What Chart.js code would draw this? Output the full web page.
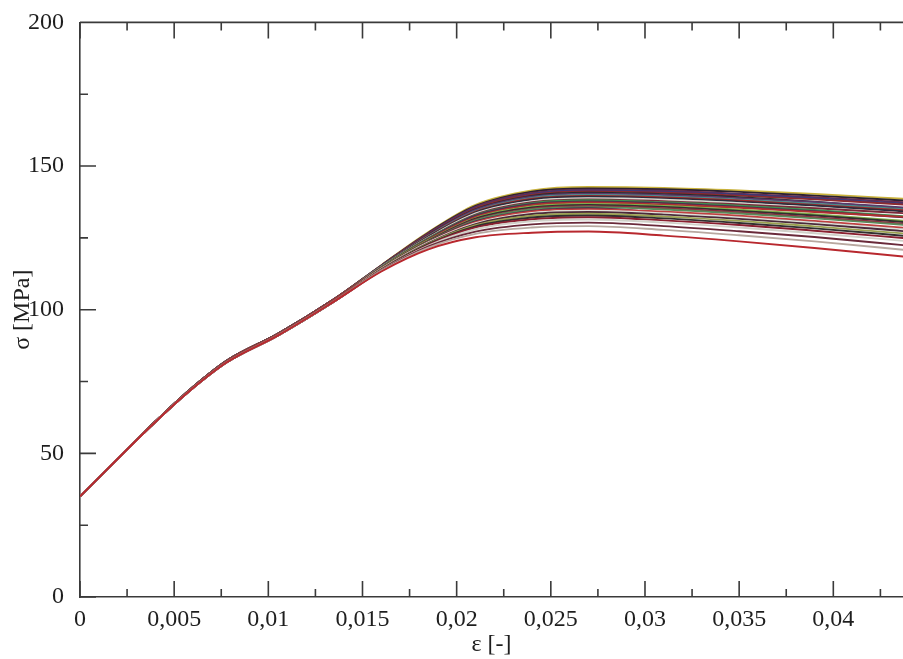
<!DOCTYPE html>
<html>
<head>
<meta charset="utf-8">
<script src="https://cdn.jsdelivr.net/npm/chart.js@4"></script>
<style>
  html, body { margin: 0; padding: 0; background: #ffffff; }
  #wrap { width: 903px; height: 659px; }
</style>
</head>
<body>
<div id="wrap"><canvas id="chart"></canvas></div>
<script>
// strain points shared by all curves
const strain = [0, 0.004, 0.0058, 0.0078, 0.0105, 0.0135, 0.016, 0.0185, 0.021, 0.024, 0.027, 0.031, 0.035, 0.039, 0.044];

// stress [MPa] of every simulated specimen
const stressCurves = [
    [35, 61.1, 72.0, 82.3, 91.6, 103.7, 115.5, 127.0, 136.5, 141.5, 142.7, 142.4, 141.5, 140.3, 138.5],
    [35, 61.1, 72.0, 82.3, 91.6, 103.7, 115.4, 126.8, 136.1, 141.1, 142.2, 141.9, 141.0, 139.7, 137.9],
    [35, 61.1, 72.0, 82.3, 91.6, 103.7, 115.4, 126.6, 135.8, 140.6, 141.8, 141.4, 140.4, 139.2, 137.3],
    [35, 61.1, 72.0, 82.3, 91.6, 103.7, 115.3, 126.4, 135.5, 140.3, 141.5, 141.1, 140.1, 138.8, 136.9],
    [35, 61.1, 72.0, 82.3, 91.6, 103.7, 115.3, 126.3, 135.3, 140.0, 141.2, 140.7, 139.7, 138.4, 136.5],
    [35, 61.1, 72.0, 82.3, 91.6, 103.7, 115.2, 126.0, 134.9, 139.6, 140.7, 140.2, 139.2, 137.6, 135.0],
    [35, 61.1, 72.0, 82.3, 91.6, 103.7, 115.1, 125.9, 134.7, 139.3, 140.4, 139.9, 138.8, 137.5, 135.5],
    [35, 61.1, 72.0, 82.3, 91.6, 103.7, 115.1, 125.7, 134.3, 138.9, 139.9, 139.4, 138.3, 136.9, 134.9],
    [35, 61.1, 72.0, 82.3, 91.6, 103.7, 115.0, 125.5, 134.1, 138.6, 139.6, 139.1, 138.0, 136.5, 134.5],
    [35, 61.0, 71.8, 82.0, 91.3, 103.3, 115.0, 125.4, 133.9, 138.3, 139.3, 138.7, 137.6, 136.2, 134.1],
    [35, 61.0, 71.8, 82.0, 91.3, 103.3, 114.9, 125.1, 133.5, 137.8, 138.8, 138.3, 137.1, 135.6, 133.5],
    [35, 61.0, 71.8, 82.0, 91.3, 103.3, 114.8, 124.9, 133.1, 137.4, 138.4, 137.8, 136.6, 135.3, 133.5],
    [35, 61.0, 71.8, 82.0, 91.3, 103.3, 114.8, 124.8, 132.9, 137.1, 138.1, 137.4, 136.2, 134.7, 132.4],
    [35, 61.0, 71.8, 82.0, 91.3, 103.3, 114.7, 124.6, 132.7, 136.8, 137.7, 137.1, 135.8, 134.3, 132.0],
    [35, 61.0, 71.8, 82.0, 91.3, 103.3, 114.6, 124.4, 132.3, 136.4, 137.3, 136.6, 135.5, 134.0, 132.2],
    [35, 61.0, 71.8, 82.0, 91.3, 103.3, 114.6, 124.2, 131.9, 135.9, 136.8, 136.1, 134.8, 133.2, 130.8],
    [35, 61.0, 71.8, 82.0, 91.3, 103.3, 114.5, 124.0, 131.7, 135.6, 136.5, 135.8, 134.4, 132.8, 130.4],
    [35, 61.0, 71.8, 82.0, 91.3, 103.3, 114.4, 123.8, 131.3, 135.2, 136.0, 135.3, 133.9, 132.2, 129.8],
    [35, 61.0, 71.8, 82.0, 91.3, 103.3, 114.4, 123.7, 131.1, 134.9, 135.7, 134.9, 133.5, 131.8, 129.4],
    [35, 61.0, 71.8, 82.0, 91.3, 103.3, 114.3, 123.6, 130.7, 134.4, 135.3, 133.8, 132.3, 130.4, 127.8],
    [35, 61.0, 71.8, 82.0, 91.3, 103.3, 114.3, 123.5, 130.5, 134.2, 135.0, 134.1, 132.7, 130.9, 128.4],
    [35, 60.9, 71.6, 81.7, 91.0, 102.9, 114.2, 123.4, 130.1, 133.7, 134.5, 133.6, 132.1, 130.3, 127.8],
    [35, 60.9, 71.6, 81.7, 91.0, 102.9, 114.1, 123.2, 129.8, 133.3, 134.0, 133.1, 131.6, 129.8, 127.2],
    [35, 60.9, 71.6, 81.7, 91.0, 102.9, 114.0, 123.0, 129.4, 132.7, 133.4, 132.4, 130.9, 129.0, 126.4],
    [35, 60.9, 71.6, 81.7, 91.0, 102.9, 113.9, 122.8, 129.0, 132.1, 132.8, 131.8, 130.2, 128.3, 125.6],
    [35, 60.9, 71.6, 81.7, 91.0, 102.9, 113.8, 122.6, 128.6, 131.5, 132.2, 131.1, 129.5, 127.5, 124.8],
    [35, 60.9, 71.6, 81.7, 91.0, 102.9, 113.7, 122.3, 128.0, 130.8, 131.4, 130.3, 128.6, 126.6, 123.8],
    [35, 60.9, 71.6, 81.7, 91.0, 102.9, 113.6, 122.0, 127.2, 129.7, 130.3, 129.1, 127.3, 125.3, 122.3],
    [35, 60.9, 71.6, 81.7, 91.0, 102.9, 113.5, 121.6, 126.4, 128.6, 129.1, 127.8, 125.9, 123.8, 120.7],
    [35, 60.9, 71.6, 81.7, 91.0, 102.9, 113.3, 121.0, 125.2, 126.8, 127.2, 125.8, 123.8, 121.5, 118.3]
];

const curveColors = [
    '#c9b23c', '#2b2230', '#6b2a4a', '#3a3a7a', '#8a2a30', '#2a2a2a',
    '#5a3a6a', '#4a8a8a', '#a02a2a', '#2c2c3c', '#d8d8d0', '#7a2a3a',
    '#3f8f4f', '#4a3050', '#b03030', '#7fae4a', '#2f2f2f', '#8a3040',
    '#5a8a5a', '#3a2a4a', '#c04040', '#e0e0d8', '#4a2a3a', '#9aa050',
    '#303030', '#8a2030', '#d0d0c8', '#6a2a3a', '#b8a8a0', '#b8282e'
];

const xTicks = [0, 0.005, 0.01, 0.015, 0.02, 0.025, 0.03, 0.035, 0.04];
const xMinorTicks = [0.0025, 0.0075, 0.0125, 0.0175, 0.0225, 0.0275, 0.0325, 0.0375, 0.0425];
const yTicks = [0, 50, 100, 150, 200];
const yMinorTicks = [25, 75, 125, 175];

const axisColor = '#3a3a3a';
const textColor = '#1e1e1e';
const serif = "'Liberation Serif', 'DejaVu Serif', serif";

// ticks point into the plot (xmgrace style), top frame line mirrored
const innerTicks = {
    id: 'innerTicks',
    afterDatasetsDraw(chart) {
        const {ctx, chartArea: a, scales: {x, y}} = chart;
        ctx.save();
        ctx.strokeStyle = axisColor;
        ctx.lineWidth = 1.6;
        ctx.beginPath();
        ctx.moveTo(a.left, a.top);
        ctx.lineTo(a.right, a.top);
        const xt = (list, len) => list.forEach(v => {
            const px = x.getPixelForValue(v);
            ctx.moveTo(px, a.bottom); ctx.lineTo(px, a.bottom - len);
            ctx.moveTo(px, a.top); ctx.lineTo(px, a.top + len);
        });
        const yt = (list, len) => list.forEach(v => {
            const py = y.getPixelForValue(v);
            ctx.moveTo(a.left, py); ctx.lineTo(a.left + len, py);
        });
        xt(xTicks, 16); xt(xMinorTicks, 8);
        yt(yTicks, 16); yt(yMinorTicks, 8);
        ctx.stroke();
        ctx.restore();
    }
};

const datasets = stressCurves.map((curve, i) => ({
    label: 'specimen ' + (i + 1),
    data: strain.map((e, j) => ({x: e, y: curve[j]})),
    borderColor: curveColors[i],
    borderWidth: 1.9,
    pointRadius: 0,
    cubicInterpolationMode: 'monotone',
    fill: false
})).reverse();

new Chart(document.getElementById('chart'), {
    type: 'line',
    data: { datasets: datasets },
    options: {
        responsive: true,
        maintainAspectRatio: false,
        animation: false,
        layout: { padding: { top: 17, right: 0, bottom: 0, left: 0 } },
        plugins: {
            legend: { display: false },
            tooltip: { enabled: false }
        },
        scales: {
            x: {
                type: 'linear',
                min: 0,
                max: 0.0437,
                afterBuildTicks: (scale) => { scale.ticks = xTicks.map(v => ({value: v})); },
                afterFit: (scale) => { scale.height = 62; },
                grid: { display: false },
                border: { display: true, color: axisColor, width: 1.6 },
                ticks: {
                    color: textColor,
                    font: { family: serif, size: 24 },
                    padding: 0,
                    maxRotation: 0,
                    callback: (v) => String(v).replace('.', ',')
                },
                title: {
                    display: true,
                    text: 'ε [-]',
                    color: textColor,
                    font: { family: serif, size: 24, lineHeight: 1.2 },
                    padding: { top: 0, bottom: 0 }
                }
            },
            y: {
                type: 'linear',
                min: 0,
                max: 200,
                afterBuildTicks: (scale) => { scale.ticks = yTicks.map(v => ({value: v})); },
                afterFit: (scale) => { scale.width = 80; },
                grid: { display: false },
                border: { display: true, color: axisColor, width: 1.6 },
                ticks: {
                    color: textColor,
                    font: { family: serif, size: 24 },
                    padding: 8
                },
                title: {
                    display: true,
                    text: 'σ [MPa]',
                    color: textColor,
                    font: { family: serif, size: 24, lineHeight: 1.2 },
                    padding: { top: 8, bottom: 0 }
                }
            }
        }
    },
    plugins: [innerTicks]
});
</script>
</body>
</html>
